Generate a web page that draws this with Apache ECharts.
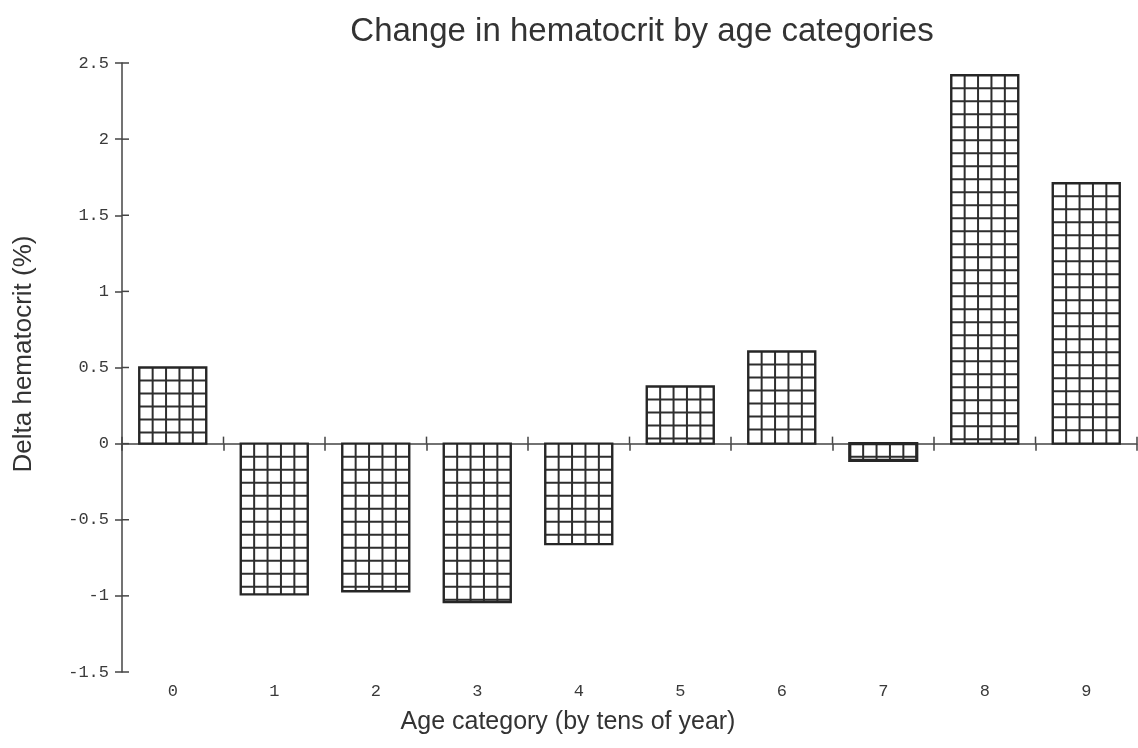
<!DOCTYPE html>
<html>
<head>
<meta charset="utf-8">
<script src="https://cdn.jsdelivr.net/npm/echarts@6/dist/echarts.min.js"></script>
<style>
  html, body { margin: 0; padding: 0; background: #fff; }
  #chart { width: 1138px; height: 748px; }
</style>
</head>
<body>
<div id="chart"></div>
<script>
// Age categories (tens of years) and the mean change in hematocrit for each
const categories = ['0', '1', '2', '3', '4', '5', '6', '7', '8', '9'];
const deltaHematocrit = [0.5, -0.99, -0.97, -1.04, -0.66, 0.375, 0.605, -0.11, 2.42, 1.71];

// Value axis range, tick step and tick values
const yMin = -1.5;
const yMax = 2.5;
const yStep = 0.5;
const yTickValues = [-1.5, -1, -0.5, 0, 0.5, 1, 1.5, 2, 2.5];

const chartTitle = 'Change in hematocrit by age categories';
const xTitle = 'Age category (by tens of year)';
const yTitle = 'Delta hematocrit (%)';

const ink = '#3a3a3a';
const axisColor = '#444';
const axisStyle = { color: axisColor, width: 1.5 };
const tickLen = 7;
const tickFont = { fontFamily: '"Liberation Mono", "DejaVu Sans Mono", monospace', fontSize: 17, color: ink };

const chart = echarts.init(document.getElementById('chart'));

// Cross-hatched bar: outline plus a square lattice filling the bar body
function renderHatchedBar(params, api) {
  const idx = api.value(0);
  const val = api.value(1);
  const base = api.coord([idx, 0]);
  const end = api.coord([idx, val]);
  const bw = api.size([1, 0])[0] * 0.66;
  const x0 = base[0] - bw / 2;
  const yTop = Math.min(base[1], end[1]);
  const yBot = Math.max(base[1], end[1]);
  const h = yBot - yTop;
  const cols = 5;
  const cell = 13;
  const lineStyle = { stroke: '#2e2e2e', lineWidth: 2, fill: null };
  const children = [{
    type: 'rect',
    shape: { x: x0, y: yTop, width: bw, height: h },
    style: { fill: '#fff' }
  }];
  for (let k = 1; k < cols; k++) {
    const x = x0 + k * bw / cols;
    children.push({ type: 'line', shape: { x1: x, y1: yTop, x2: x, y2: yBot }, style: lineStyle });
  }
  for (let y = yTop + cell; y < yBot - 2; y += cell) {
    children.push({ type: 'line', shape: { x1: x0, y1: y, x2: x0 + bw, y2: y }, style: lineStyle });
  }
  children.push({
    type: 'rect',
    shape: { x: x0, y: yTop, width: bw, height: h },
    style: { fill: null, stroke: '#262626', lineWidth: Math.abs(h) < 25 ? 3.2 : 2.4 }
  });
  return { type: 'group', children: children };
}

const tickStroke = { stroke: axisColor, lineWidth: 1.5, fill: null };

// Upward half of the category boundary ticks on the zero line
function renderXInnerTicks(params, api) {
  const idx = api.value(0);
  const c = api.coord([idx, 0]);
  const half = api.size([1, 0])[0] / 2;
  const xs = [c[0] - half];
  if (idx === categories.length - 1) xs.push(c[0] + half);
  return {
    type: 'group',
    children: xs.map(x => ({
      type: 'line',
      shape: { x1: x, y1: c[1], x2: x, y2: c[1] - tickLen },
      style: tickStroke
    }))
  };
}

// Rightward half of the value ticks on the left axis
function renderYInnerTicks(params, api) {
  const y = api.coord([0, api.value(0)])[1];
  const x = params.coordSys.x;
  return {
    type: 'line',
    shape: { x1: x, y1: y, x2: x + tickLen, y2: y },
    style: tickStroke
  };
}

const option = {
  backgroundColor: '#fff',
  animation: false,
  grid: { left: 122, right: 1, top: 63, bottom: 76, containLabel: false },
  xAxis: [
    {
      type: 'category', data: categories, position: 'bottom',
      axisLine: { show: true, onZero: true, lineStyle: axisStyle },
      axisTick: { show: true, length: tickLen, lineStyle: axisStyle },
      axisLabel: { show: false }, splitLine: { show: false }
    },
    {
      type: 'category', data: categories, position: 'bottom',
      axisLine: { show: false, onZero: false },
      axisTick: { show: false },
      axisLabel: Object.assign({ margin: 11 }, tickFont),
      splitLine: { show: false }
    }
  ],
  yAxis: {
    type: 'value', min: yMin, max: yMax, interval: yStep, position: 'left',
    axisLine: { show: true, lineStyle: axisStyle },
    axisTick: { show: true, length: tickLen, lineStyle: axisStyle },
    axisLabel: Object.assign({ margin: 13 }, tickFont),
    splitLine: { show: false }
  },
  series: [
    {
      type: 'custom',
      xAxisIndex: 0,
      renderItem: renderHatchedBar,
      data: categories.map((c, i) => [i, deltaHematocrit[i]]),
      z: 1
    },
    {
      type: 'custom',
      xAxisIndex: 0,
      renderItem: renderXInnerTicks,
      data: categories.map((c, i) => [i]),
      silent: true,
      z: 3
    },
    {
      type: 'custom',
      xAxisIndex: 0,
      renderItem: renderYInnerTicks,
      encode: { y: 0 },
      data: yTickValues.map(v => [v]),
      clip: false,
      silent: true,
      z: 3
    }
  ],
  graphic: [
    {
      type: 'text', x: 642, y: 32,
      style: {
        text: chartTitle, fill: '#333',
        font: '33px "Liberation Sans", Arial, sans-serif',
        textAlign: 'center', textVerticalAlign: 'middle'
      }
    },
    {
      type: 'text', x: 568, y: 722,
      style: {
        text: xTitle, fill: '#333',
        font: '25px "Liberation Sans", Arial, sans-serif',
        textAlign: 'center', textVerticalAlign: 'middle'
      }
    },
    {
      type: 'text', x: 24, y: 354, rotation: Math.PI / 2,
      style: {
        text: yTitle, fill: '#333',
        font: '26px "Liberation Sans", Arial, sans-serif',
        textAlign: 'center', textVerticalAlign: 'middle'
      }
    }
  ]
};

chart.setOption(option);
</script>
</body>
</html>
